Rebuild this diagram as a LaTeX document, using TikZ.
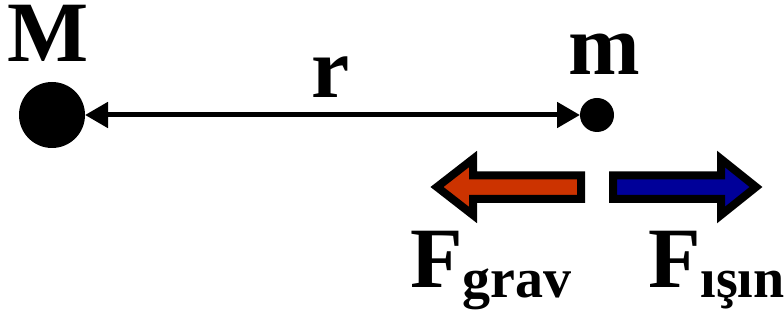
\documentclass[tikz,border=0pt]{standalone}
\usepackage{fontspec}
\setmainfont{Liberation Serif}
\usetikzlibrary{arrows.meta}
\definecolor{fred}{HTML}{CC3300}
\definecolor{fblue}{HTML}{000099}
\begin{document}
\begin{tikzpicture}[x=1pt,y=1pt,
  lbl/.style={anchor=base west,inner sep=0pt,outer sep=0pt,font=\fontsize{86}{86}\selectfont\bfseries},
  mass/.style={circle,fill=black,inner sep=0pt,outer sep=0pt},
  force/.style={draw=black,line width=8pt,miter limit=10,line join=miter}]
\useasboundingbox (0,0) rectangle (784,323);
\node[mass,minimum size=66pt] (M) at (52,208) {};
\node[mass,minimum size=34pt] (m) at (597,208) {};
\draw[line width=5pt,{Triangle[length=23pt,width=25pt]}-{Triangle[length=23pt,width=25pt]}] (M) -- (m);
\node[lbl,text height=58pt] (lM) at (8,261) {M};
\node[lbl] (lr) at (311,225) {r};
\node[lbl] (lm) at (568,248) {m};
\draw[force,fill=fred] (437,136) -- (473,164) -- (473,147.5) -- (581,147.5) -- (581,124) -- (473,124) -- (473,108) -- cycle;
\draw[force,fill=fblue] (756,136) -- (721,164) -- (721,147.5) -- (613,147.5) -- (613,124) -- (721,124) -- (721,108) -- cycle;
\node[lbl] (Fg) at (410,35) {F\raisebox{-10pt}{\fontsize{56}{56}\selectfont grav}};
\node[lbl] (Fi) at (648,35) {F\raisebox{-10pt}{\fontsize{56}{56}\selectfont ışın}};
\end{tikzpicture}
\end{document}
